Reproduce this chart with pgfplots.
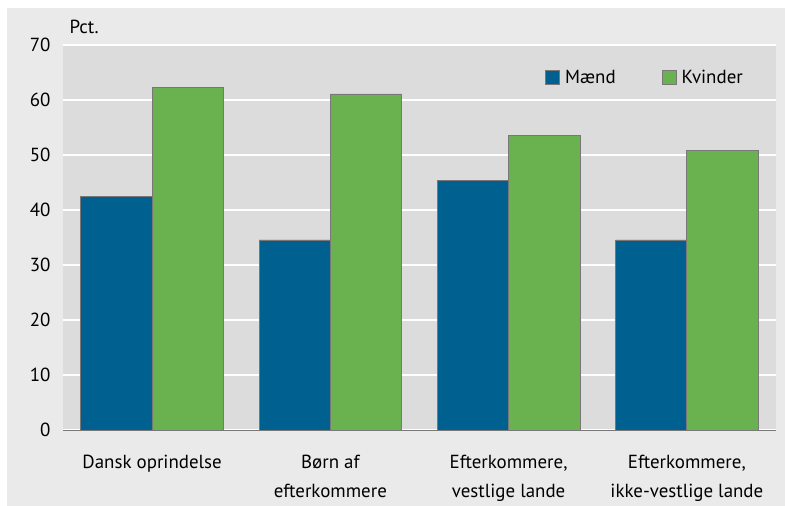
\documentclass[border=0pt]{standalone}
\usepackage{fontspec}
\setmainfont{PT Sans}
\usepackage{pgfplots}
\pgfplotsset{compat=1.18}
\definecolor{bblue}{RGB}{0,97,144}
\definecolor{bgreen}{RGB}{106,178,79}
\definecolor{plotbg}{RGB}{220,220,220}
\definecolor{outerbg}{RGB}{234,234,234}
\definecolor{edgegray}{RGB}{120,120,120}
\begin{document}
\begin{tikzpicture}
\fill[white] (-63bp,-76bp) rectangle (722bp,430bp);
\fill[outerbg] (-56bp,-76bp) rectangle (722bp,422bp);
\begin{axis}[
  at={(0,0)}, anchor=south west,
  scale only axis, width=713bp, height=385bp,
  xmin=-0.5, xmax=3.5, ymin=0, ymax=70,
  axis background/.style={fill=plotbg},
  ybar=0pt, bar width=0.4,
  ytick={0,10,...,70},
  ymajorgrids, grid style={white, line width=1.6bp},
  xtick={0,1,2,3},
  xticklabels={Dansk oprindelse, Børn af\\efterkommere, {Efterkommere,\\vestlige lande}, {Efterkommere,\\ikke-vestlige lande}},
  xticklabel style={align=center, font=\fontsize{19}{29}\selectfont, yshift=-22bp},
  yticklabel style={font=\fontsize{19}{22}\selectfont, xshift=-9bp},
  /pgf/number format/assume math mode=true,
  axis x line*=bottom, axis y line*=left,
  y axis line style={draw=none},
  x axis line style={draw=edgegray, line width=1bp},
  major tick length=0pt,
  tick style={draw=none},
  legend columns=2,
  legend style={draw=none, fill=none, at={(rel axis cs:1,1)}, anchor=north east,
    xshift=-28bp, yshift=-21bp, font=\fontsize{19}{22}\selectfont,
    /tikz/every odd column/.append style={column sep=3bp},
    /tikz/every even column/.append style={column sep=44bp}},
  legend image code/.code={\draw[#1] (0bp,-7bp) rectangle (14bp,7bp);},
  clip=false,
]
\addplot[fill=bblue, draw=edgegray, line width=0.8bp, bar shift=-0.2] coordinates {(0,42.4) (1,34.55) (2,45.45) (3,34.55)};
\addplot[fill=bgreen, draw=edgegray, line width=0.8bp, bar shift=0.2] coordinates {(0,62.25) (1,61.1) (2,53.5) (3,50.9)};
\legend{Mænd, Kvinder}
\node[anchor=base west, font=\fontsize{19}{22}\selectfont] at (rel axis cs:0,1) [xshift=3bp, yshift=12bp] {Pct.};
\end{axis}
\end{tikzpicture}
\end{document}
